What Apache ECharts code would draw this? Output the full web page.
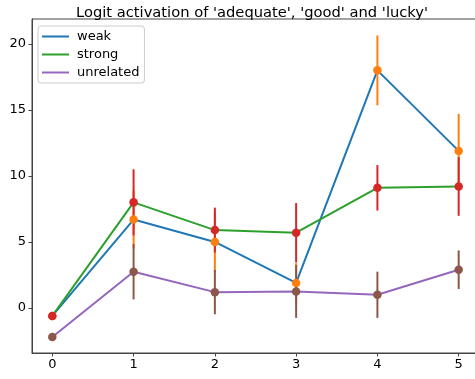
<!DOCTYPE html>
<html>
<head>
<meta charset="utf-8">
<script src="https://cdn.jsdelivr.net/npm/echarts@6/dist/echarts.min.js"></script>
<style>
  html, body { margin: 0; padding: 0; background: #fff; }
  #chart { width: 475px; height: 379px; }
</style>
</head>
<body>
<div id="chart"></div>
<script>
// Layer positions along the x axis
const layers = [0, 1, 2, 3, 4, 5];

// Mean logit per layer and its error (half-length of the bar)
const weak = [-0.6, 6.7, 5.0, 1.9, 18.0, 11.9];
const weakErr = [0, 2.2, 2.3, 1.5, 2.65, 2.8];
const strong = [-0.6, 8.0, 5.9, 5.7, 9.1, 9.2];
const strongErr = [0, 2.5, 1.7, 2.25, 1.72, 2.22];
const unrelated = [-2.2, 2.75, 1.2, 1.25, 1.0, 2.9];
const unrelatedErr = [0, 2.1, 1.68, 2.0, 1.75, 1.46];

// Tick labels
const xTicks = [0, 1, 2, 3, 4, 5];
const yTicks = [0, 5, 10, 15, 20];

const FONT = 'DejaVu Sans';
const C = {
  blue: '#1f77b4', orange: '#ff7f0e', green: '#2ca02c',
  red: '#d62728', purple: '#9467bd', brown: '#8c564b'
};

function pairs(vals) { return layers.map((x, i) => [x, vals[i]]); }
function errData(vals, errs) { return layers.map((x, i) => [x, vals[i] - errs[i], vals[i] + errs[i]]); }

function errorSeries(vals, errs, color, z) {
  return {
    type: 'custom',
    z: z,
    silent: true,
    data: errData(vals, errs),
    renderItem: function (params, api) {
      const lo = api.coord([api.value(0), api.value(1)]);
      const hi = api.coord([api.value(0), api.value(2)]);
      return {
        type: 'line',
        shape: { x1: lo[0], y1: lo[1], x2: hi[0], y2: hi[1] },
        style: { stroke: color, lineWidth: 2 }
      };
    }
  };
}

function lineSeries(name, vals, color) {
  return {
    name: name, type: 'line', data: pairs(vals), z: 2,
    showSymbol: false, symbol: 'none',
    lineStyle: { color: color, width: 2 },
    itemStyle: { color: color },
    animation: false
  };
}

function markerSeries(vals, color, z) {
  return {
    type: 'scatter', data: pairs(vals), z: z,
    symbolSize: 8.5,
    itemStyle: { color: color, opacity: 1 },
    silent: true
  };
}

const chart = echarts.init(document.getElementById('chart'), null, { renderer: 'canvas' });
chart.setOption({
  animation: false,
  backgroundColor: '#fff',
  title: {
    text: "Logit activation of 'adequate', 'good' and 'lucky'",
    left: 71, top: 1,
    textStyle: { fontFamily: FONT, fontSize: 14.7, fontWeight: 'normal', color: '#000' }
  },
  legend: {
    data: ['weak', 'strong', 'unrelated'],
    orient: 'vertical',
    left: 38, top: 26,
    icon: 'rect',
    itemWidth: 27, itemHeight: 2,
    itemGap: 5,
    padding: [4, 5, 4, 4],
    backgroundColor: 'rgba(255,255,255,0.8)',
    borderColor: '#cccccc', borderWidth: 1, borderRadius: 3,
    textStyle: { fontFamily: FONT, fontSize: 13, color: '#000', padding: [0, 0, 0, 3] }
  },
  grid: {
    left: 32, top: 19, right: -4, bottom: 26,
    show: true, borderColor: '#444', borderWidth: 1,
    containLabel: false,
    outerBoundsMode: 'none'
  },
  xAxis: {
    type: 'value', min: -0.25, max: 5.25,
    splitLine: { show: false },
    axisLine: { show: true, onZero: false, lineStyle: { color: '#444', width: 1 } },
    axisTick: { show: true, length: 3.5, inside: false, customValues: xTicks, lineStyle: { color: '#444' } },
    axisLabel: { customValues: xTicks, margin: 5, fontFamily: FONT, fontSize: 13, color: '#000' }
  },
  yAxis: {
    type: 'value', min: -3.41, max: 21.89,
    splitLine: { show: false },
    axisLine: { show: true, onZero: false, lineStyle: { color: '#444', width: 1 } },
    axisTick: { show: true, length: 3.5, inside: false, customValues: yTicks, lineStyle: { color: '#444' } },
    axisLabel: { customValues: yTicks, margin: 6, fontFamily: FONT, fontSize: 13, color: '#000' }
  },
  series: [
    lineSeries('weak', weak, C.blue),
    lineSeries('strong', strong, C.green),
    lineSeries('unrelated', unrelated, C.purple),
    errorSeries(weak, weakErr, C.orange, 3),
    errorSeries(strong, strongErr, C.red, 4),
    errorSeries(unrelated, unrelatedErr, C.brown, 5),
    markerSeries(weak, C.orange, 6),
    markerSeries(strong, C.red, 7),
    markerSeries(unrelated, C.brown, 8)
  ]
});
</script>
</body>
</html>
